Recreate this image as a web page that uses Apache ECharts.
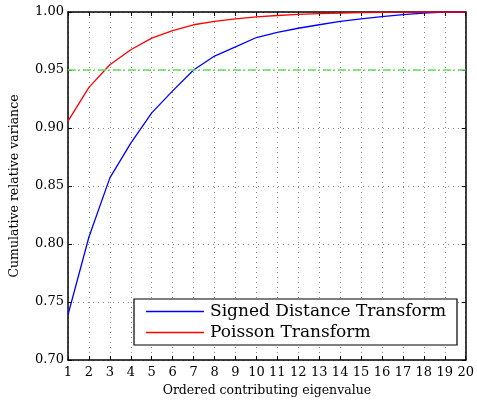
<!DOCTYPE html>
<html><head><meta charset="utf-8">
<script src="https://cdn.jsdelivr.net/npm/echarts@6/dist/echarts.min.js"></script>
<style>html,body{margin:0;padding:0;background:#fff}#c{width:477px;height:403px}</style>
</head><body><div id="c"></div>
<script>
const eigen = [1,2,3,4,5,6,7,8,9,10,11,12,13,14,15,16,17,18,19,20];
const signedDistance = [0.739,0.806,0.857,0.887,0.913,0.932,0.950,0.962,0.970,0.978,0.9825,0.986,0.989,0.992,0.994,0.996,0.9978,0.999,1.0,1.0];
const poisson = [0.906,0.935,0.9545,0.9675,0.9775,0.984,0.989,0.992,0.994,0.9958,0.997,0.998,0.9986,0.999,0.9994,0.9997,0.9999,1.0,1.0,1.0];
const threshold = 0.95;
const seriesNames = ['Signed Distance Transform','Poisson Transform'];
const F = 'DejaVu Serif';
const chart = echarts.init(document.getElementById('c'));
const grid = {left:66,right:11,top:12,bottom:43};
chart.setOption({
  animation:false,
  grid:grid,
  xAxis:[{type:'value',min:1,max:20,interval:1,
    name:'Ordered contributing eigenvalue',nameLocation:'middle',nameGap:20,
    nameTextStyle:{fontFamily:F,fontSize:12.5,color:'#000'},
    axisLine:{lineStyle:{color:'#000',width:1.5}},
    axisTick:{inside:true,length:4,lineStyle:{color:'#000'}},
    axisLabel:{fontFamily:F,fontSize:13,color:'#000',margin:6},
    splitLine:{show:true,lineStyle:{color:'#888',type:[1,4],width:1}}},
    {type:'value',position:'top',min:1,max:20,interval:1,
    axisLine:{show:true,lineStyle:{color:'#000',width:1.5}},
    axisTick:{inside:true,length:4,lineStyle:{color:'#000'}},
    axisLabel:{show:false},splitLine:{show:false}}],
  yAxis:[{type:'value',min:0.7,max:1.0,interval:0.05,
    name:'Cumulative relative variance',nameLocation:'middle',nameGap:47,
    nameTextStyle:{fontFamily:F,fontSize:12.5,color:'#000'},
    axisLine:{show:true,lineStyle:{color:'#000',width:1.5}},
    axisTick:{inside:true,length:4,lineStyle:{color:'#000'}},
    axisLabel:{fontFamily:F,fontSize:13,color:'#000',margin:4,formatter:v=>v.toFixed(2)},
    splitLine:{show:true,lineStyle:{color:'#888',type:[1,4],width:1}}},
    {type:'value',position:'right',min:0.7,max:1.0,interval:0.05,
    axisLine:{show:true,lineStyle:{color:'#000',width:1.5}},
    axisTick:{inside:true,length:4,lineStyle:{color:'#000'}},
    axisLabel:{show:false},splitLine:{show:false}}],
  legend:{orient:'vertical',left:134,top:299,
    backgroundColor:'#fff',borderColor:'#000',borderWidth:1.2,borderRadius:0,
    padding:[4,11,4,12],itemWidth:58,itemHeight:1.5,itemGap:4,icon:'rect',
    textStyle:{fontFamily:F,fontSize:17,color:'#000',padding:[0,0,0,1]},
    data:seriesNames},
  series:[
    {name:seriesNames[0],type:'line',symbol:'none',z:3,
      lineStyle:{color:'#0000ff',width:1.3},itemStyle:{color:'#0000ff'},
      data:eigen.map((x,i)=>[x,signedDistance[i]]),
      markLine:{silent:true,symbol:'none',label:{show:false},
        lineStyle:{color:'#5fe05f',type:[8,2.5,1.5,3],width:1.5},
        data:[{yAxis:threshold}]}},
    {name:seriesNames[1],type:'line',symbol:'none',z:3,
      lineStyle:{color:'#ff0000',width:1.3},itemStyle:{color:'#ff0000'},
      data:eigen.map((x,i)=>[x,poisson[i]])}
  ]
});
</script></body></html>
